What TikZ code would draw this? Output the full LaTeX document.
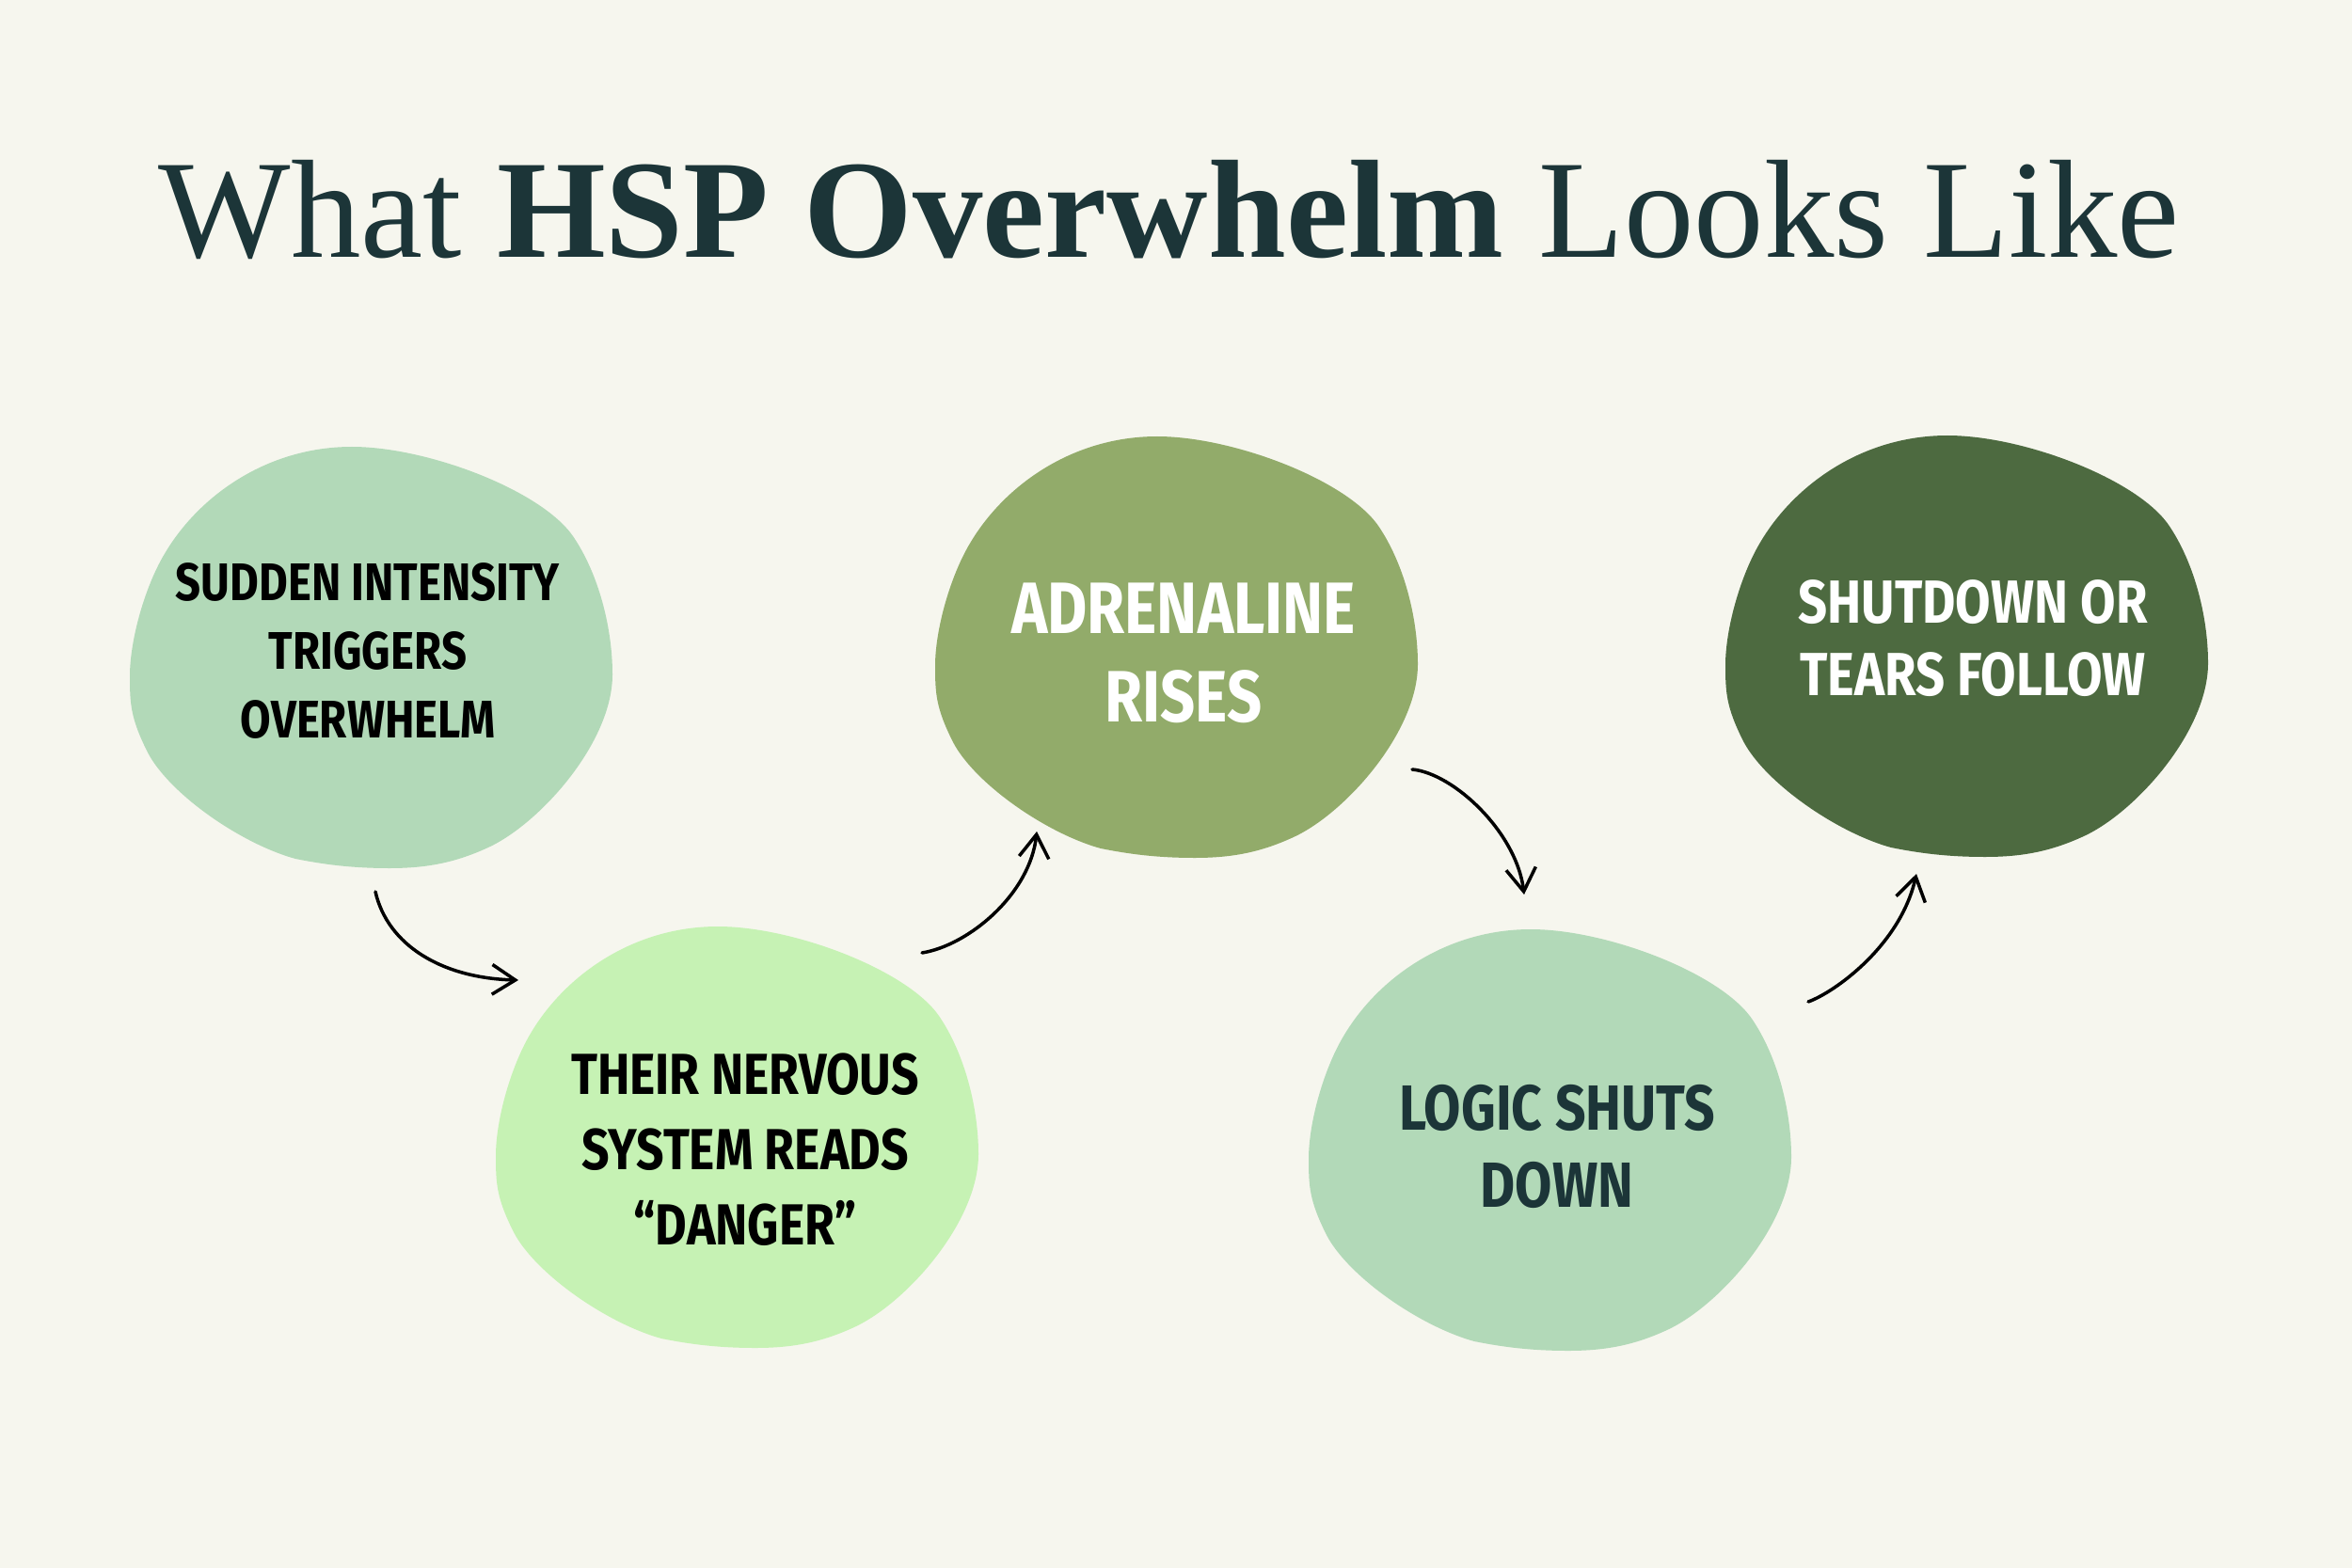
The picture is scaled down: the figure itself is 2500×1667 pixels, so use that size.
\documentclass[tikz,border=0pt]{standalone}
\usepackage{fontspec}
\usepackage{xcolor}
\usetikzlibrary{arrows.meta}

\setmainfont{Liberation Serif}
\newfontfamily\blobfont[FakeStretch=0.84]{Fira Sans}

\definecolor{bgcream}{HTML}{F6F6EE}
\definecolor{titleteal}{HTML}{1C3538}
\definecolor{mintblob}{HTML}{B2D9B8}
\definecolor{limeblob}{HTML}{C6F2B4}
\definecolor{oliveblob}{HTML}{92AB6A}
\definecolor{forestblob}{HTML}{4D6A40}

\begin{document}
\begin{tikzpicture}[x=0.01cm,y=-0.01cm]
    	\tikzset{
    	  pics/blob/.style={code={
    	    \fill[#1] (-20,-224) .. controls (60,-224) and (181,-178) .. (215,-129)
    	      .. controls (243,-88) and (257,-30) .. (257,18)
    	      .. controls (257,90) and (181,175) .. (127,201)
    	      .. controls (91,218) and (60,224) .. (20,224)
    	      .. controls (-20,224) and (-50,220) .. (-80,214)
    	      .. controls (-138,198) and (-214,145) .. (-237,101)
    	      .. controls (-255,65) and (-256,50) .. (-256,20)
    	      .. controls (-256,-20) and (-239,-78) .. (-218,-112)
    	      .. controls (-182,-172) and (-110,-224) .. (-20,-224) -- cycle;
    	  }},
    	  blobtext/.style 2 args={align=center,inner sep=0pt,
    	    font=\blobfont\bfseries\fontsize{#1}{#2}\selectfont},
    	  flow/.style={line width=1pt,line cap=round,
    	    -{Straight Barb[length=7pt,width=9pt,line width=1pt]}}
    	}

    	\fill[bgcream] (0,0) rectangle (2500,1667);

    	\node[anchor=base,text=titleteal,font=\fontsize{42.3}{48}\selectfont]
    	  (title) at (1243,274) {What \textbf{HSP Overwhelm} Looks Like};

    	% the five blobs
    	\pic at (394,699) {blob=mintblob};
    	\pic at (783,1209) {blob=limeblob};
    	\pic at (1250,688) {blob=oliveblob};
    	\pic at (1647,1212) {blob=mintblob};
    	\pic at (2090,687) {blob=forestblob};

    	\node[blobtext={16}{20.9},text=black] (sudden) at (391,692)
    	  {SUDDEN INTENSITY\\TRIGGERS\\OVERWHELM};
    	\node[blobtext={17.5}{22.7},text=black] (nervous) at (792,1222)
    	  {THEIR NERVOUS\\SYSTEM READS\\“DANGER”};
    	\node[blobtext={22}{26.7},text=white] (adrenaline) at (1258,694)
    	  {ADRENALINE\\RISES};
    	\node[blobtext={19.3}{23.2},text=titleteal] (logic) at (1655,1219)
    	  {LOGIC SHUTS\\DOWN};
    	\node[blobtext={18.4}{21.9},text=white] (shutdown) at (2097,679)
    	  {SHUTDOWN OR\\TEARS FOLLOW};

    	% arrow ends
    	\coordinate (sudden-out) at (399,948);
    	\coordinate (nervous-in) at (551,1042);
    	\coordinate (nervous-out) at (980,1013);
    	\coordinate (adrenaline-in) at (1102,884);
    	\coordinate (adrenaline-out) at (1501,818);
    	\coordinate (logic-in) at (1620,951);
    	\coordinate (logic-out) at (1922,1065);
    	\coordinate (shutdown-in) at (2037,929);

    	\draw[flow] (sudden-out) .. controls (412,1005) and (470,1040) .. (nervous-in);
    	\draw[flow] (nervous-out) .. controls (1030,1005) and (1095,950) .. (adrenaline-in);
    	\draw[flow] (adrenaline-out) .. controls (1545,822) and (1612,885) .. (logic-in);
    	\draw[flow] (logic-out) .. controls (1950,1055) and (2020,1005) .. (shutdown-in);
    \end{tikzpicture}
\end{document}
